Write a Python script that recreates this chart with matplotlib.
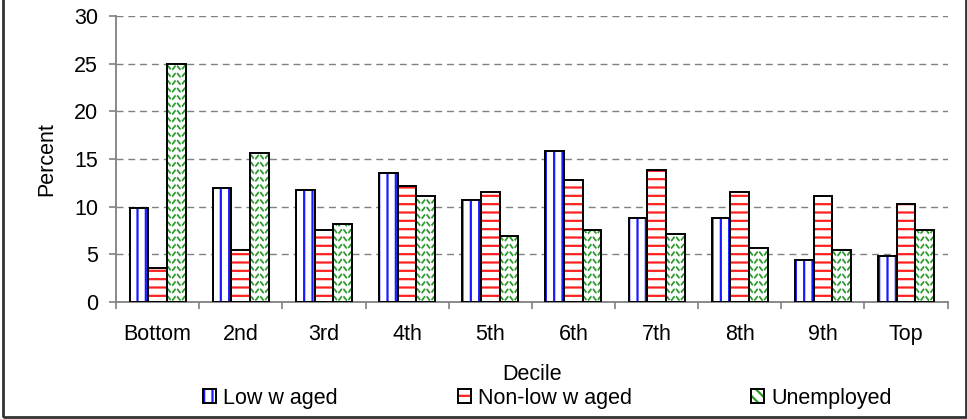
import numpy as np
import matplotlib
matplotlib.use("Agg")
import matplotlib.pyplot as plt
from matplotlib.patches import Patch, Rectangle
from matplotlib.legend_handler import HandlerTuple

# data
deciles = ["Bottom", "2nd", "3rd", "4th", "5th", "6th", "7th", "8th", "9th", "Top"]
low_waged = [9.9, 12.0, 11.75, 13.5, 10.7, 15.8, 8.8, 8.85, 4.4, 4.85]
non_low_waged = [3.6, 5.5, 7.6, 12.2, 11.5, 12.8, 13.9, 11.5, 11.15, 10.3]
unemployed = [25.0, 15.6, 8.2, 11.1, 6.9, 7.55, 7.1, 5.7, 5.5, 7.6]
series_labels = ["Low w aged", "Non-low w aged", "Unemployed"]

plt.rcParams['font.family'] = ['Liberation Sans', 'DejaVu Sans']
plt.rcParams['hatch.linewidth'] = 1.6
fs = 15.5

fig = plt.figure(figsize=(9.67, 4.19), dpi=100)
ax = fig.add_axes([0.12, 0.279, 0.860, 0.683])

x = np.arange(len(deciles))
w = 0.225
ymin, ymax = 0, 30

# low waged: blue vertical lines
ax.bar(x - w, low_waged, w, color="white", edgecolor="#1a1aff", hatch="||", linewidth=0, zorder=3)
ax.bar(x - w, low_waged, w, fill=False, edgecolor="black", linewidth=1.4, zorder=4)
# non-low waged: red horizontal lines
ax.bar(x, non_low_waged, w, color="white", edgecolor="#ff2020", hatch="--", linewidth=0, zorder=3)
ax.bar(x, non_low_waged, w, fill=False, edgecolor="black", linewidth=1.4, zorder=4)
# unemployed: green wavy texture, drawn inside each bar
ubars = ax.bar(x + w, unemployed, w, color="white", linewidth=0, zorder=3)
for b in ubars:
    xx = np.linspace(b.get_x(), b.get_x() + b.get_width(), 80)
    period = b.get_width() / 2.0
    wave = 0.22 * np.cos(2 * np.pi * (xx - b.get_x()) / period)
    for k in np.arange(0.4, b.get_height() + 1, 0.78):
        ln, = ax.plot(xx, k + wave, color="#2e9a2e", lw=1.3, ls=(0, (3.0, 0.8)), zorder=3.5)
        ln.set_clip_path(b)
ax.bar(x + w, unemployed, w, fill=False, edgecolor="black", linewidth=1.4, zorder=4)

ax.set_xlim(-0.5, len(deciles) - 0.5)
ax.set_ylim(ymin, ymax)
ax.set_yticks(np.arange(0, 31, 5))
ax.yaxis.grid(True, color="#808080", linestyle=(0, (5, 3.5)), linewidth=1.0, zorder=0)
ax.set_axisbelow(True)

ax.set_xticks(x)
ax.set_xticklabels(deciles, fontsize=fs)
ax.set_xticks(np.arange(-0.5, len(deciles), 1.0), minor=True)
ax.tick_params(axis="x", which="major", length=0, pad=16)
ax.tick_params(axis="x", which="minor", length=5, direction="out", color="#808080", width=1.2)
ax.tick_params(axis="y", length=5, color="#808080", width=1.2, labelsize=fs, pad=8)

for s in ["top", "right"]:
    ax.spines[s].set_visible(False)
ax.spines["left"].set_color("#808080")
ax.spines["bottom"].set_color("#808080")
ax.spines["left"].set_linewidth(1.3)
ax.spines["bottom"].set_linewidth(1.3)

ax.set_ylabel("Percent", fontsize=fs, labelpad=12)
fig.text(532 / 967, 1 - 374 / 419, "Decile", fontsize=fs, ha="center", va="center")

# legend: three separate entries, spread like the original
styles = [("#1a1aff", "||"), ("#ff2020", "--"), ("#2e9a2e", "\\\\\\")]
legend_x = [203, 458, 751]
for (col, hat), lab, lx in zip(styles, series_labels, legend_x):
    h1 = Patch(facecolor="white", edgecolor=col, hatch=hat, linewidth=0)
    h2 = Patch(fill=False, edgecolor="black", linewidth=1.4)
    fig.legend([(h1, h2)], [lab], handler_map={tuple: HandlerTuple(ndivide=1, pad=0)},
               loc="center left", bbox_to_anchor=(lx / 967, 1 - 398 / 419),
               frameon=False, fontsize=fs, borderpad=0, borderaxespad=0,
               handlelength=0.6, handleheight=0.6, handletextpad=0.35)

fig.add_artist(Rectangle((2.5 / 967, 2.5 / 419), 963 / 967, 1.1, transform=fig.transFigure,
                         fill=False, edgecolor="#333333", linewidth=2))

fig.savefig("out.png", dpi=100)
